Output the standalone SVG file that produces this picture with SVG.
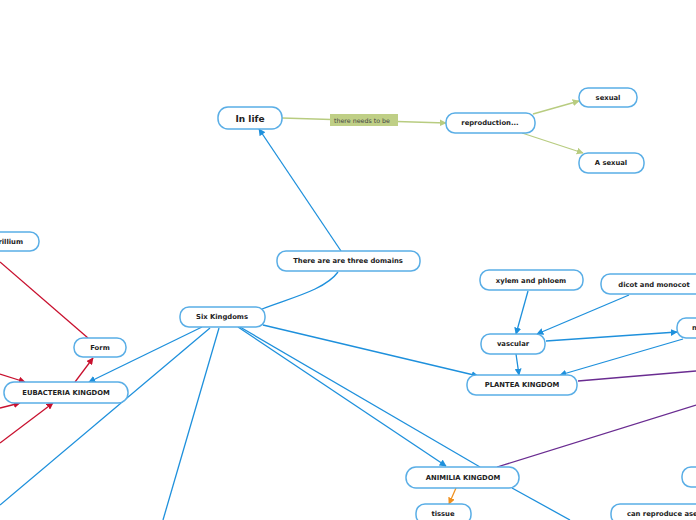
<svg xmlns="http://www.w3.org/2000/svg" width="696" height="520" viewBox="0 0 696 520">
<style>
.n rect{fill:#fff;stroke:#5aaee6;stroke-width:1.5}
.n text{font-family:"DejaVu Sans",Verdana,sans-serif;font-weight:bold;font-size:6.8px;fill:#222;text-anchor:middle;dominant-baseline:central}
.b{stroke:#1e90dc;stroke-width:1.3;fill:none}
.g{stroke:#b8cc80;stroke-width:1.3;fill:none}
.r{stroke:#c8102e;stroke-width:1.3;fill:none}
.p{stroke:#6a2c91;stroke-width:1.3;fill:none}
.o{stroke:#f0901e;stroke-width:1.3;fill:none}
</style>
<defs>
<marker id="ab" viewBox="0 0 10 10" refX="9" refY="5" markerWidth="7" markerHeight="7" orient="auto" markerUnits="userSpaceOnUse"><path d="M0,0L10,5L0,10z" fill="#1e90dc"/></marker>
<marker id="ag" viewBox="0 0 10 10" refX="9" refY="5" markerWidth="7" markerHeight="7" orient="auto" markerUnits="userSpaceOnUse"><path d="M0,0L10,5L0,10z" fill="#b8cc80"/></marker>
<marker id="ar" viewBox="0 0 10 10" refX="9" refY="5" markerWidth="7" markerHeight="7" orient="auto" markerUnits="userSpaceOnUse"><path d="M0,0L10,5L0,10z" fill="#c8102e"/></marker>
<marker id="ao" viewBox="0 0 10 10" refX="9" refY="5" markerWidth="7" markerHeight="7" orient="auto" markerUnits="userSpaceOnUse"><path d="M0,0L10,5L0,10z" fill="#f0901e"/></marker>
</defs>
<g id="connectors">
<line class="b" x1="341" y1="251" x2="259" y2="129" marker-end="url(#ab)"/>
<path class="b" d="M338,272 C325,290 290,298 262,309"/>
<line class="g" x1="282" y1="118" x2="446" y2="123" marker-end="url(#ag)"/>
<line class="g" x1="533" y1="114" x2="579" y2="101" marker-end="url(#ag)"/>
<line class="g" x1="522" y1="133" x2="583" y2="153" marker-end="url(#ag)"/>
<line class="b" x1="202" y1="327" x2="89" y2="382" marker-end="url(#ab)"/>
<line class="b" x1="210" y1="328" x2="0" y2="505"/>
<line class="b" x1="219" y1="328" x2="163" y2="520"/>
<line class="b" x1="240" y1="327" x2="480" y2="467"/>
<line class="b" x1="238" y1="327" x2="446" y2="466" marker-end="url(#ab)"/>
<line class="b" x1="263" y1="325" x2="478" y2="376" marker-end="url(#ab)"/>
<line class="b" x1="512" y1="488" x2="570" y2="520"/>
<line class="o" x1="456" y1="488" x2="449" y2="504" marker-end="url(#ao)"/>
<line class="b" x1="516" y1="354" x2="519" y2="375" marker-end="url(#ab)"/>
<line class="b" x1="528" y1="291" x2="516" y2="334" marker-end="url(#ab)"/>
<line class="b" x1="629" y1="295" x2="537" y2="334" marker-end="url(#ab)"/>
<line class="b" x1="546" y1="341" x2="677" y2="332" marker-end="url(#ab)"/>
<line class="b" x1="683" y1="339" x2="560" y2="375" marker-end="url(#ab)"/>
<line class="p" x1="578" y1="381" x2="696" y2="371"/>
<line class="p" x1="497" y1="467" x2="696" y2="405"/>
<line class="r" x1="0" y1="262" x2="88" y2="338"/>
<line class="r" x1="75" y1="382" x2="93" y2="358" marker-end="url(#ar)"/>
<line class="r" x1="0" y1="374" x2="25" y2="382" marker-end="url(#ar)"/>
<line class="r" x1="0" y1="408" x2="20" y2="403" marker-end="url(#ar)"/>
<line class="r" x1="0" y1="443" x2="53" y2="403" marker-end="url(#ar)"/>
<rect x="330" y="114" width="68" height="12" fill="#bfcf86"/>
<text x="334" y="120" font-family="DejaVu Sans,Verdana,sans-serif" font-size="6.3px" fill="#444" dominant-baseline="central">there needs to be</text>
</g>
<g id="n-inlife" class="n"><rect x="218" y="107" width="64" height="22" rx="10"/><text x="250" y="118.5" style="font-size:9px">In life</text></g>
<g id="n-repro" class="n"><rect x="446" y="113" width="89" height="20" rx="9"/><text x="490" y="123">reproduction...</text></g>
<g id="n-sexual" class="n"><rect x="579" y="88" width="58" height="19" rx="9"/><text x="608" y="97.5">sexual</text></g>
<g id="n-asexual" class="n"><rect x="579" y="153" width="65" height="20" rx="9"/><text x="611" y="163">A sexual</text></g>
<g id="n-domains" class="n"><rect x="277" y="251" width="143" height="20" rx="9"/><text x="348" y="261">There are are three domains</text></g>
<g id="n-six" class="n"><rect x="180" y="307" width="85" height="20" rx="9"/><text x="222" y="317">Six Kingdoms</text></g>
<g id="n-spirillium" class="n"><rect x="-40" y="232" width="79" height="19" rx="9"/><text x="23" y="241.5" style="text-anchor:end">Spirillium</text></g>
<g id="n-form" class="n"><rect x="74" y="338" width="52" height="19" rx="9"/><text x="100" y="347.5">Form</text></g>
<g id="n-eubacteria" class="n"><rect x="4" y="382" width="124" height="21" rx="10"/><text x="66" y="392.5">EUBACTERIA KINGDOM</text></g>
<g id="n-xylem" class="n"><rect x="480" y="270" width="103" height="20" rx="9"/><text x="531" y="280.5">xylem and phloem</text></g>
<g id="n-dicot" class="n"><rect x="601" y="274" width="110" height="20" rx="9"/><text x="654" y="284.5">dicot and monocot</text></g>
<g id="n-vascular" class="n"><rect x="481" y="334" width="64" height="20" rx="9"/><text x="513" y="344">vascular</text></g>
<g id="n-nonvascular" class="n"><rect x="677" y="318" width="60" height="20" rx="9"/><text x="692" y="328" style="text-anchor:start">non vascular</text></g>
<g id="n-plantea" class="n"><rect x="467" y="375" width="110" height="20" rx="9"/><text x="522" y="385">PLANTEA KINGDOM</text></g>
<g id="n-animilia" class="n"><rect x="406" y="467" width="113" height="21" rx="10"/><text x="463" y="477.5">ANIMILIA KINGDOM</text></g>
<g id="n-tissue" class="n"><rect x="416" y="504" width="55" height="20" rx="9"/><text x="443" y="514">tissue</text></g>
<g id="n-right" class="n"><rect x="682" y="467" width="40" height="20" rx="9"/></g>
<g id="n-canrepro" class="n"><rect x="611" y="504" width="120" height="20" rx="9"/><text x="627" y="514" style="text-anchor:start">can reproduce asexually</text></g>
</svg>
